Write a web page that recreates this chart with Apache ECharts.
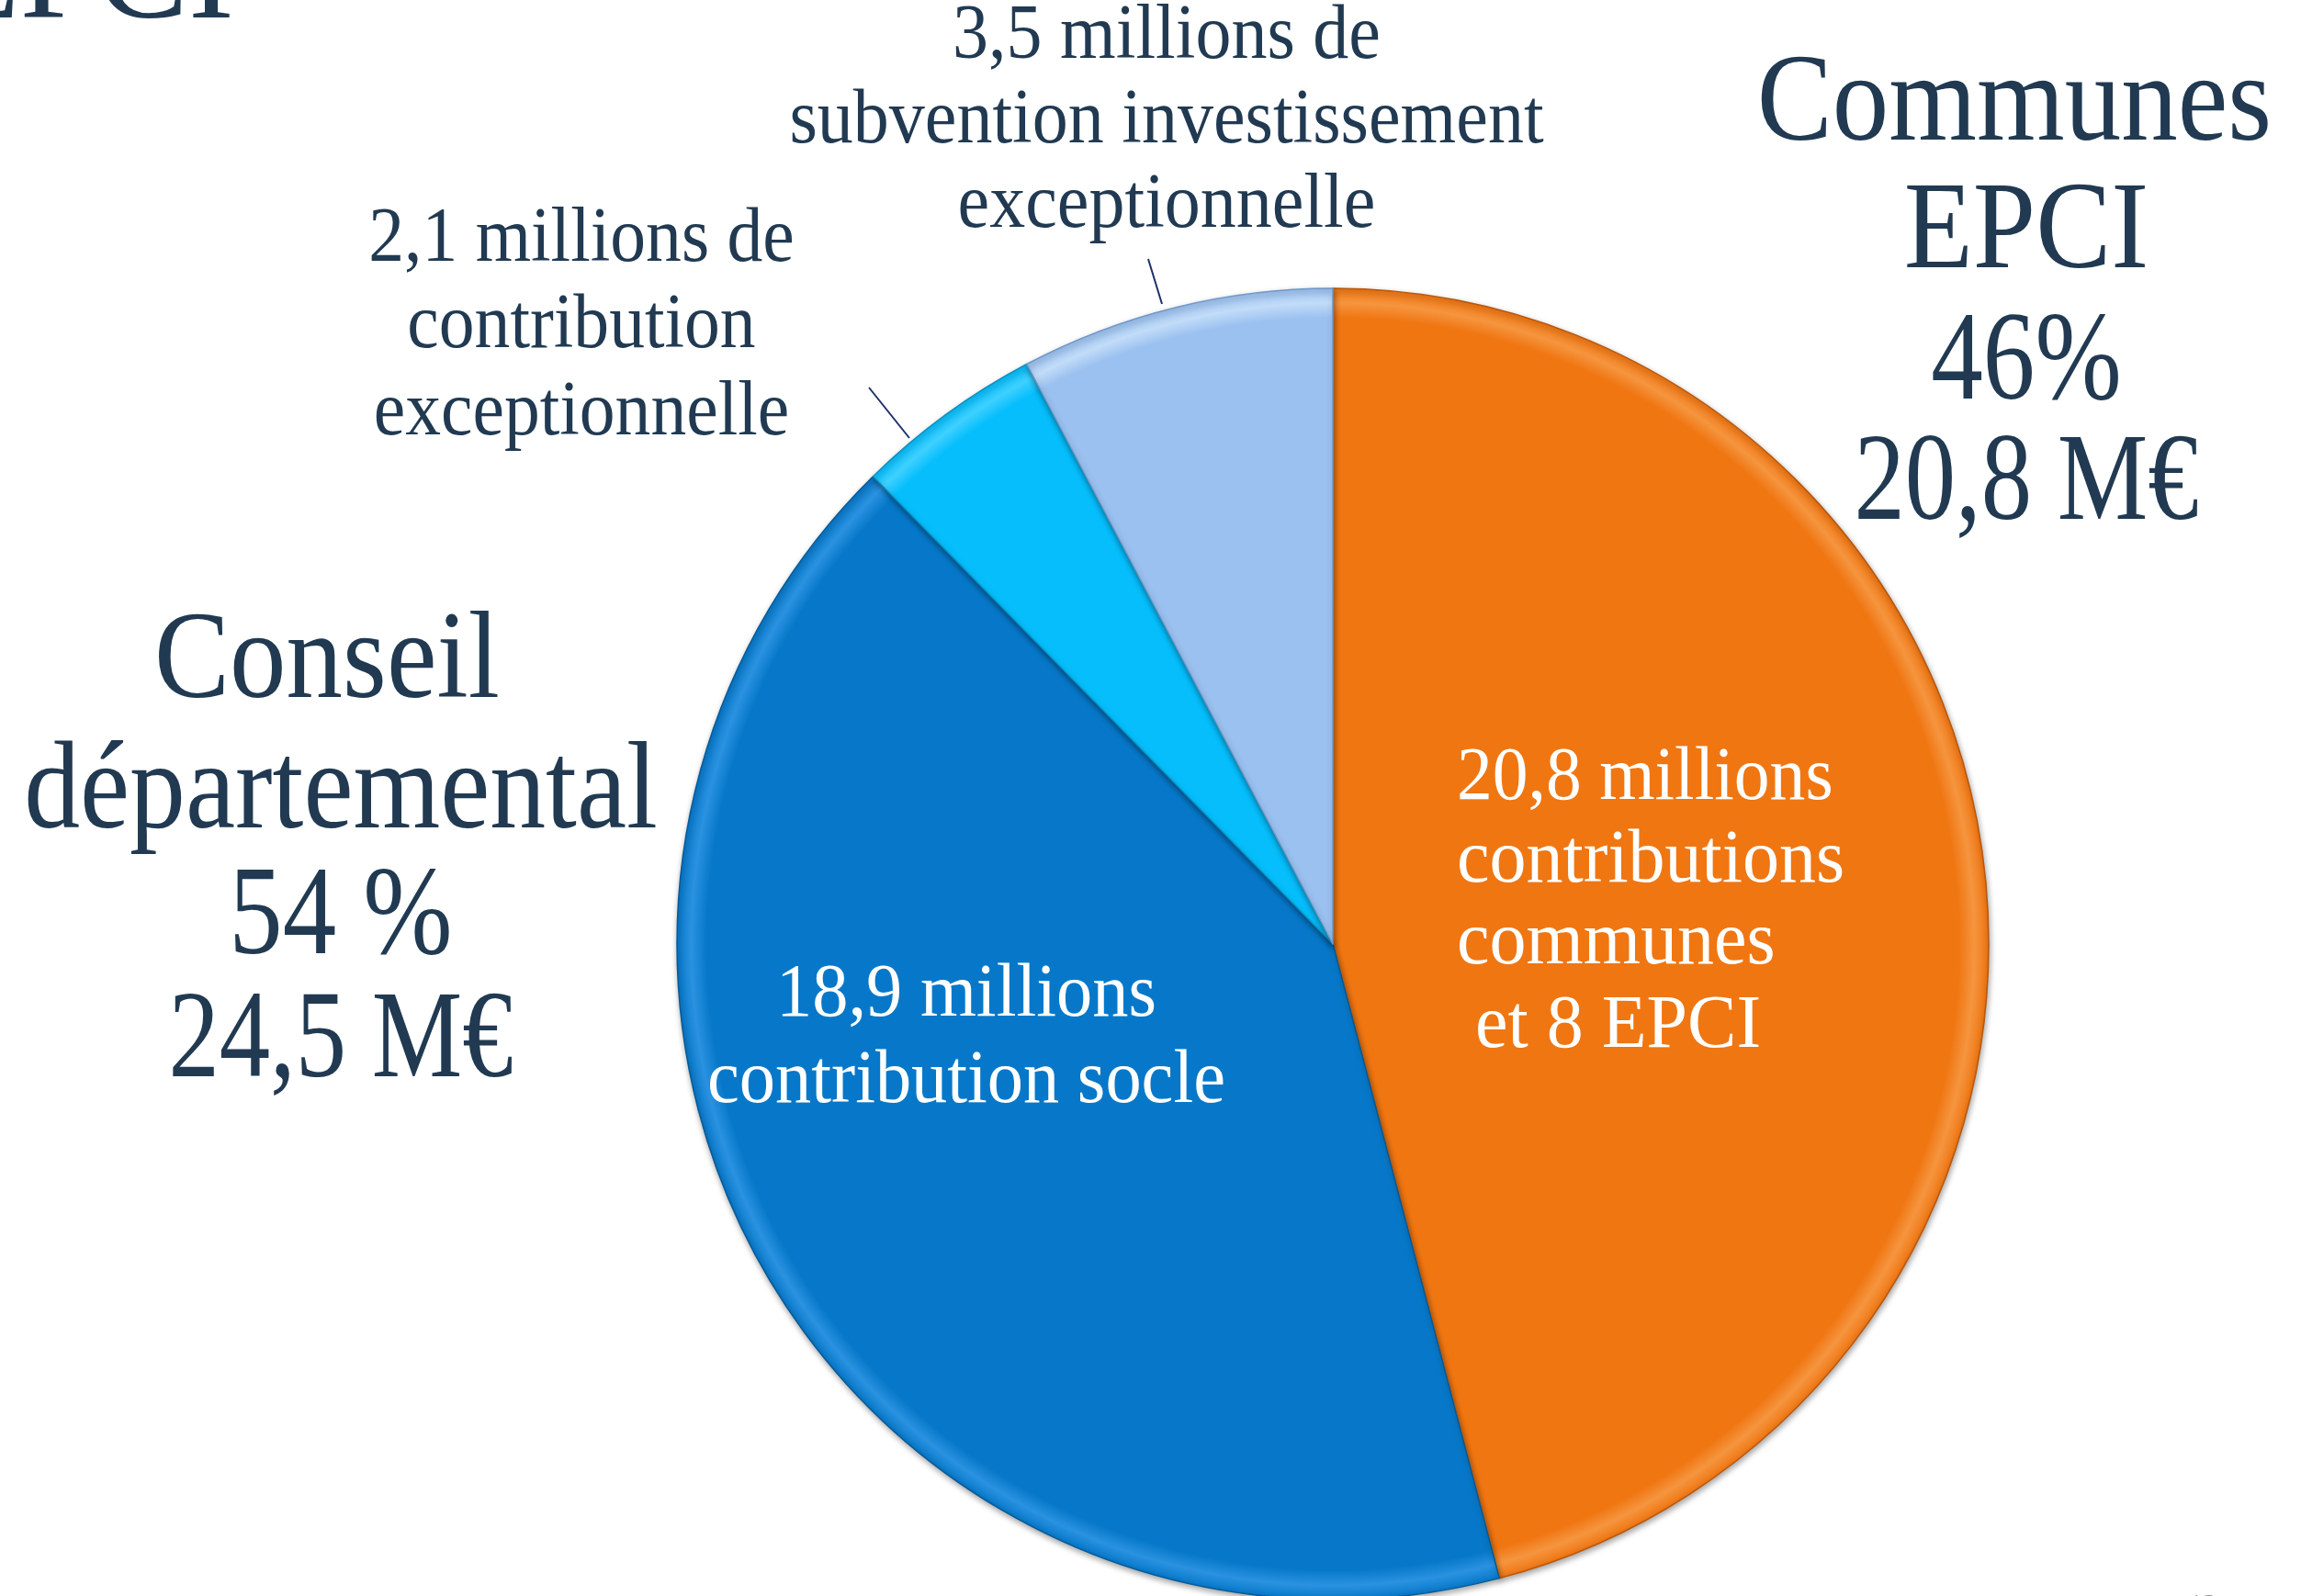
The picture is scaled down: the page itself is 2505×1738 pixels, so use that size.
<!DOCTYPE html>
<html>
<head>
<meta charset="utf-8">
<script src="https://cdn.jsdelivr.net/npm/echarts@6/dist/echarts.min.js"></script>
<style>
  html, body { margin: 0; padding: 0; background: #fff; }
  #chart { width: 2505px; height: 1738px; }
</style>
</head>
<body>
<div id="chart"></div>
<script>
// slices, clockwise from 12 o'clock (millions d'euros)
const categories = ["Communes et EPCI", "Contribution socle", "Contribution exceptionnelle", "Subvention investissement"];
const values = [20.8, 18.9, 2.1, 3.5];

// texts
const labelSubvention = ["3,5 millions de", "subvention investissement", "exceptionnelle"];
const labelExcept = ["2,1 millions de", "contribution", "exceptionnelle"];
const labelCommunes = ["Communes", "EPCI", "46%", "20,8 M€"];
const labelConseil = ["Conseil", "départemental", "54 %", "24,5 M€"];
const labelInOrange = ["20,8 millions", "contributions", "communes", " et 8 EPCI"];
const labelInBlue = ["18,9 millions", "contribution socle"];

// colours: base, rim, edge
const colors = [
  ["#f07612", "#f5953f", "#b9560a"],
  ["#0778c9", "#2a92e0", "#055a98"],
  ["#06befc", "#3fd0ff", "#0793c4"],
  ["#9bc1f0", "#c2dcf8", "#6f98c9"]
];

const CX = 1451, CY = 1028, R = 714;
const FONT = "'Liberation Serif', 'DejaVu Serif', serif";
const NAVY = "#213a52";

const chart = echarts.init(document.getElementById("chart"));

function fill(c) {
  return {
    type: "radial", x: CX, y: CY, r: R, global: true,
    colorStops: [
      { offset: 0, color: c[0] },
      { offset: 0.955, color: c[0] },
      { offset: 0.978, color: c[1] },
      { offset: 1, color: c[0] }
    ]
  };
}

// sx/sy: stretch to get closer to the narrow Garamond look
function txt(lines, x, y, size, color, align, lh, sx, sy) {
  return {
    type: "text", x: x, y: y, z: 100, silent: true,
    scaleX: sx || 1, scaleY: sy || 1,
    style: {
      text: lines.join("\n"), fill: color,
      font: size + "px " + FONT,
      textAlign: align, textVerticalAlign: "middle",
      lineHeight: lh || size
    }
  };
}

const option = {
  backgroundColor: "#fff",
  animation: false,
  series: [{
    type: "pie",
    center: [CX, CY],
    radius: [0, R],
    startAngle: 90,
    clockwise: true,
    label: { show: false },
    labelLine: { show: false },
    data: values.map((v, i) => ({
      name: categories[i],
      value: v,
      itemStyle: {
        color: fill(colors[i]),
        borderColor: colors[i][2],
        borderWidth: 1.5,
        shadowColor: "rgba(0,0,0,0.35)",
        shadowBlur: 6,
        shadowOffsetX: 1,
        shadowOffsetY: 3
      }
    }))
  }],
  graphic: [
    // cut title at top-left
    txt(["EPCI"], 255, -20, 150, NAVY, "right"),
    // outside labels
    txt(labelSubvention, 1270, 133, 80, NAVY, "center", 88, 0.975, 1.05),
    txt(labelExcept, 633, 356, 80, NAVY, "center", 90, 0.97, 1.05),
    { type: "line", z: 100, silent: true, shape: { x1: 1250, y1: 282, x2: 1265, y2: 331 }, style: { stroke: "#1d2f6a", lineWidth: 2 } },
    { type: "line", z: 100, silent: true, shape: { x1: 946, y1: 422, x2: 990, y2: 477 }, style: { stroke: "#1d2f6a", lineWidth: 2 } },
    // big blocks
    txt([labelCommunes[0]], 2193, 116, 123, NAVY, "center", 0, 1, 1.1),
    txt([labelCommunes[1]], 2206, 255, 123, NAVY, "center", 0, 1, 1.1),
    txt([labelCommunes[2]], 2206, 398, 123, NAVY, "center", 0, 0.92, 1.12),
    txt([labelCommunes[3]], 2206, 529, 123, NAVY, "center", 0, 0.9, 1.1),
    txt([labelConseil[0]], 356, 723, 123, NAVY, "center", 0, 1, 1.1),
    txt([labelConseil[1]], 371, 865, 123, NAVY, "center", 0, 0.99, 1.1),
    txt([labelConseil[2]], 371, 1002, 123, NAVY, "center", 0, 0.95, 1.12),
    txt([labelConseil[3]], 371, 1136, 123, NAVY, "center", 0, 0.9, 1.1),
    // inside labels
    txt([labelInOrange[0]], 1586, 848, 80, "#fff", "left", 0, 0.97, 1.04),
    txt([labelInOrange[1]], 1586, 938, 80, "#fff", "left", 0, 1, 1.04),
    txt([labelInOrange[2]], 1586, 1027, 80, "#fff", "left", 0, 1, 1.04),
    txt([labelInOrange[3]], 1586, 1118, 80, "#fff", "left", 0, 1, 1.04),
    txt(labelInBlue, 1052, 1131, 80, "#fff", "center", 90, 0.98, 1.04),
    // page number, mostly off the bottom
    txt(["13"], 2398, 1748, 30, "#8c8c8c", "center")
  ]
};

chart.setOption(option);
</script>
</body>
</html>
